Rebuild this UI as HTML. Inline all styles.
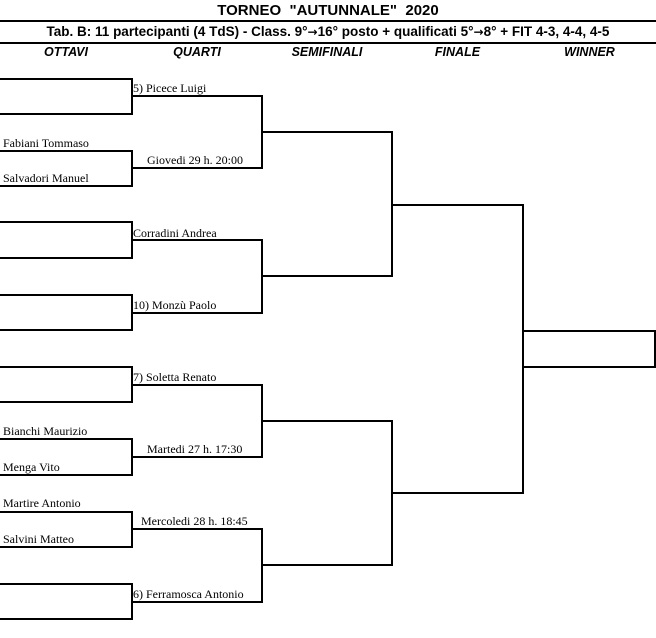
<!DOCTYPE html>
<html><head><meta charset="utf-8"><style>
body{margin:0;width:656px;height:638px;background:#fff;position:relative;overflow:hidden}
.t{position:absolute;font-family:"Liberation Sans",sans-serif;font-weight:bold;white-space:nowrap}
.n{position:absolute;font-family:"Liberation Serif",serif;font-size:12px;white-space:nowrap;line-height:14px}
.a{font-family:"DejaVu Sans",sans-serif;font-size:12px}
</style></head><body>
<div class="t" style="left:0;width:656px;top:2px;text-align:center;font-size:15px">TORNEO &nbsp;"AUTUNNALE" &nbsp;2020</div>
<div class="t" style="left:0;width:656px;top:24px;text-align:center;font-size:13.5px">Tab. B: 11 partecipanti (4 TdS) - Class. 9°<span class="a">→</span>16° posto + qualificati 5°<span class="a">→</span>8° + FIT 4-3, 4-4, 4-5</div>
<div class="t" style="left:0;width:132px;top:45px;text-align:center;font-size:12.5px;font-style:italic">OTTAVI</div>
<div class="t" style="left:132px;width:130px;top:45px;text-align:center;font-size:12.5px;font-style:italic">QUARTI</div>
<div class="t" style="left:262px;width:130px;top:45px;text-align:center;font-size:12.5px;font-style:italic">SEMIFINALI</div>
<div class="t" style="left:392px;width:131px;top:45px;text-align:center;font-size:12.5px;font-style:italic">FINALE</div>
<div class="t" style="left:523px;width:133px;top:45px;text-align:center;font-size:12.5px;font-style:italic">WINNER</div>
<svg width="656" height="638" style="position:absolute;left:0;top:0" fill="none" stroke="#000">
<line x1="0" y1="21" x2="656" y2="21" stroke-width="2"/>
<line x1="0" y1="43" x2="656" y2="43" stroke-width="2"/>
<g stroke-width="2">
<path d="M0 79H132V114H0M0 151H132V186H0M0 222H132V258H0M0 295H132V330H0M0 367H132V402H0M0 439H132V475H0M0 512H132V547H0M0 584H132V619H0"/>
<path d="M132 96H262V168H132M132 240H262V313H132M132 385H262V457H132M132 529H262V602H132"/>
<path d="M262 132H392V276H262M262 421H392V565H262"/>
<path d="M392 205H523V493H392"/>
<path d="M523 331H655V367H523"/>
</g>
</svg>
<div class="n" style="left:133px;top:81px">5) Picece Luigi</div>
<div class="n" style="left:3px;top:136px">Fabiani Tommaso</div>
<div class="n" style="left:147px;top:153px">Giovedi 29 h. 20:00</div>
<div class="n" style="left:3px;top:171px">Salvadori Manuel</div>
<div class="n" style="left:133px;top:226px">Corradini Andrea</div>
<div class="n" style="left:133px;top:298px">10) Monzù Paolo</div>
<div class="n" style="left:133px;top:370px">7) Soletta Renato</div>
<div class="n" style="left:3px;top:424px">Bianchi Maurizio</div>
<div class="n" style="left:147px;top:442px">Martedi 27 h. 17:30</div>
<div class="n" style="left:3px;top:460px">Menga Vito</div>
<div class="n" style="left:3px;top:496px">Martire Antonio</div>
<div class="n" style="left:141px;top:514px">Mercoledi 28 h. 18:45</div>
<div class="n" style="left:3px;top:532px">Salvini Matteo</div>
<div class="n" style="left:133px;top:587px">6) Ferramosca Antonio</div>
</body></html>
